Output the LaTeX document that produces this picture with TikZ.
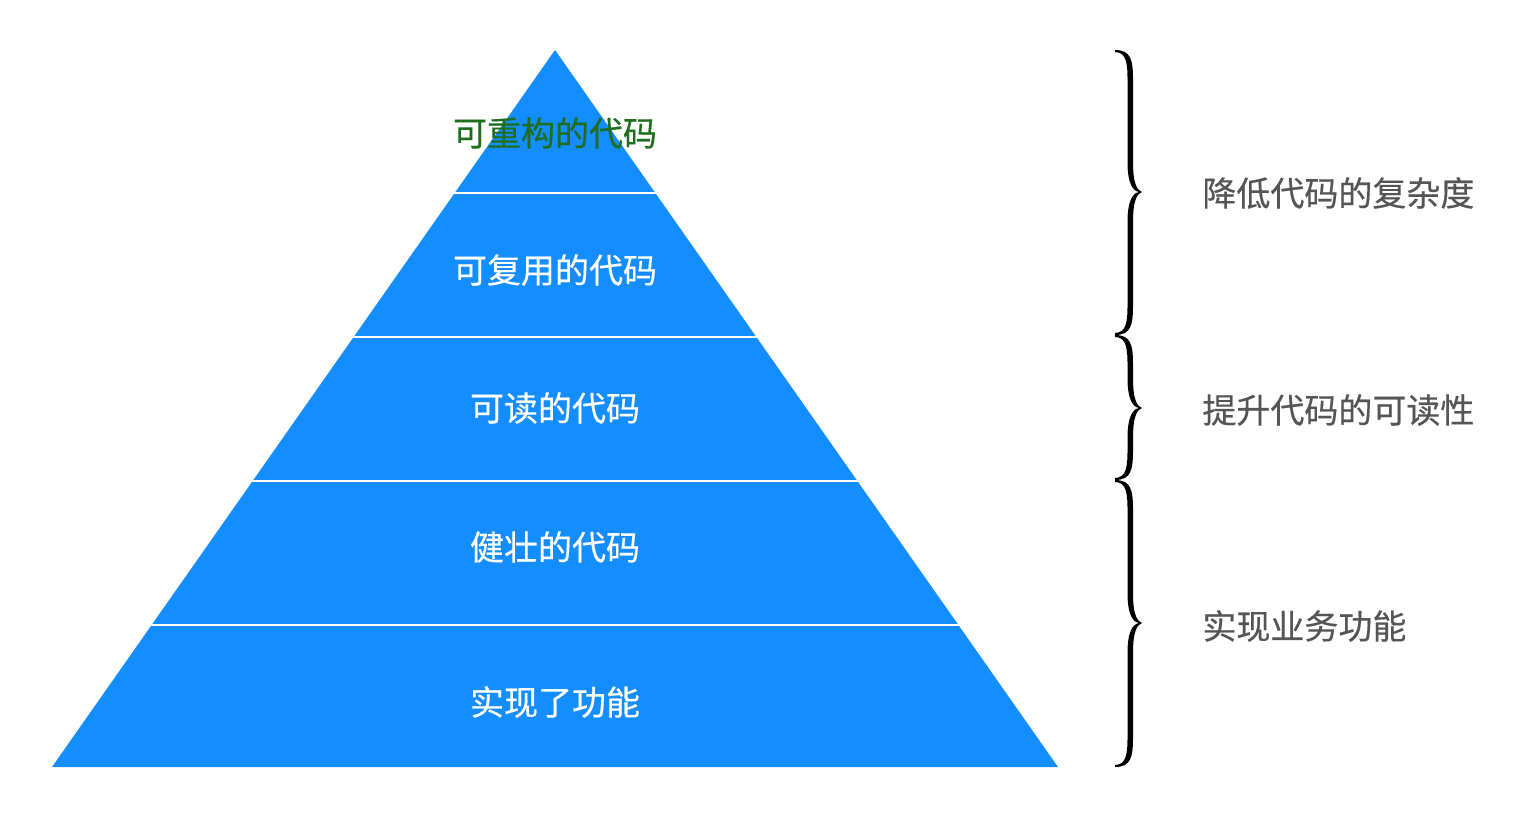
\documentclass[tikz,border=0pt]{standalone}
\usepackage{fontspec}
\newfontfamily\cjk[FakeBold=0.4]{Noto Sans CJK SC}
\definecolor{pyrblue}{HTML}{148DFF}
\definecolor{topgreen}{HTML}{1E6E1E}
\definecolor{labelgrey}{HTML}{555555}
\tikzset{
  layertext/.style={font=\cjk\fontsize{17pt}{20pt}\selectfont, text=white, inner sep=0pt},
  sidetext/.style={font=\cjk\fontsize{17pt}{20pt}\selectfont, text=labelgrey, inner sep=0pt, anchor=west},
  divider/.style={white, line width=1pt},
}
\newcommand\drawbrace[3]{%
  \fill[black] (1115,#1) .. controls (1131,#1) and (1133,{#1+10}) .. (1133,{#1+30})
    -- (1133,{#2-30}) .. controls (1133,{#2-8}) and (1137,{#2-2}) .. (1142,#2)
    .. controls (1137,{#2+2}) and (1133,{#2+8}) .. (1133,{#2+30})
    -- (1133,{#3-30}) .. controls (1133,{#3-10}) and (1131,#3) .. (1115,#3)
    -- (1115,{#3-2}) .. controls (1126,{#3-2.5}) and (1127.5,{#3-12}) .. (1127.5,{#3-30})
    -- (1127.5,{#2+30}) .. controls (1127.5,{#2+8}) and (1133,{#2+1}) .. (1139,#2)
    .. controls (1133,{#2-1}) and (1127.5,{#2-8}) .. (1127.5,{#2-30})
    -- (1127.5,{#1+30}) .. controls (1127.5,{#1+12}) and (1126,{#1+2.5}) .. (1115,{#1+2}) -- cycle;%
}
\begin{document}
\begin{tikzpicture}[x=0.5pt,y=-0.5pt]
\useasboundingbox (0,0) rectangle (1540,822);
\coordinate (apex) at (555,50);
\coordinate (bl) at (52,767);
\coordinate (br) at (1058,767);
\fill[pyrblue] (apex) -- (bl) -- (br) -- cycle;
\begin{scope}
  \clip (apex) -- (bl) -- (br) -- cycle;
  \draw[divider] (0,193) -- (1540,193);
  \draw[divider] (0,337) -- (1540,337);
  \draw[divider] (0,481) -- (1540,481);
  \draw[divider] (0,625) -- (1540,625);
\end{scope}
\node[layertext, text=topgreen] (l5) at (555,133) {可重构的代码};
\node[layertext] (l4) at (555,270) {可复用的代码};
\node[layertext] (l3) at (555,408) {可读的代码};
\node[layertext] (l2) at (555,547) {健壮的代码};
\node[layertext] (l1) at (555,702) {实现了功能};
\drawbrace{50}{192}{335}
\drawbrace{335}{408}{480}
\drawbrace{480}{623}{767}
\node[sidetext] (s1) at (1202,193) {降低代码的复杂度};
\node[sidetext] (s2) at (1202,410) {提升代码的可读性};
\node[sidetext] (s3) at (1202,626) {实现业务功能};
\end{tikzpicture}
\end{document}
